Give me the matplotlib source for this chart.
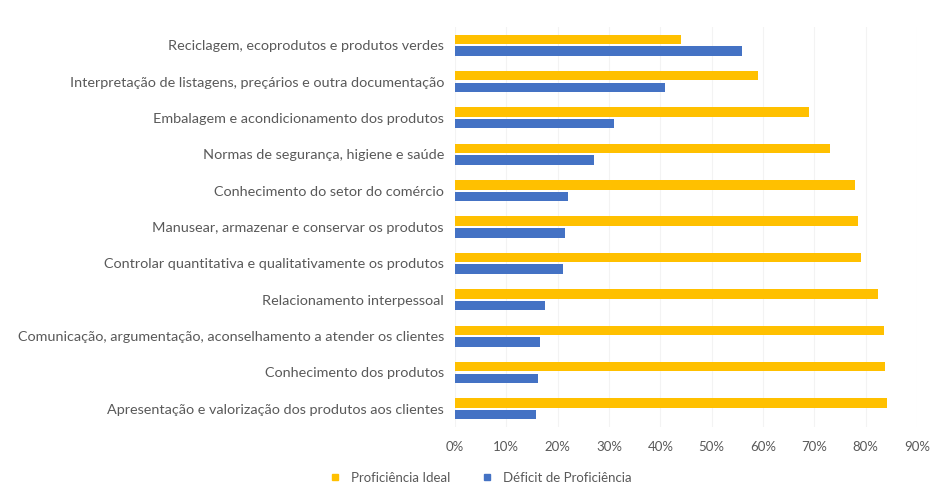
import matplotlib.pyplot as plt
import numpy as np
from matplotlib.ticker import FuncFormatter
from matplotlib.lines import Line2D

categories = [
    "Reciclagem, ecoprodutos e produtos verdes",
    "Interpretação de listagens, preçários e outra documentação",
    "Embalagem e acondicionamento dos produtos",
    "Normas de segurança, higiene e saúde",
    "Conhecimento do setor do comércio",
    "Manusear, armazenar e conservar os produtos",
    "Controlar quantitativa e qualitativamente os produtos",
    "Relacionamento interpessoal",
    "Comunicação, argumentação, aconselhamento a atender os clientes",
    "Conhecimento dos produtos",
    "Apresentação e valorização dos produtos aos clientes",
]
ideal = [44, 59, 69, 73, 78, 78.5, 79, 82.4, 83.5, 83.8, 84.2]
deficit = [56, 41, 31, 27, 22, 21.5, 21, 17.6, 16.5, 16.2, 15.8]
xticks = [0, 10, 20, 30, 40, 50, 60, 70, 80, 90]

YELLOW = "#ffc000"
BLUE = "#4472c4"
TEXT = "#595959"

plt.rcParams["font.family"] = ["Lato", "DejaVu Sans"]

fig = plt.figure(figsize=(9.31, 4.94), dpi=100)
ax = fig.add_axes([455 / 931, 1 - 427 / 494, 462 / 931, 400 / 494])

y = np.arange(len(categories))
h = 0.26
ax.barh(y - 0.16, ideal, height=h, color=YELLOW, zorder=3)
ax.barh(y + 0.16, deficit, height=h, color=BLUE, zorder=3)

ax.set_xlim(0, 90)
ax.set_ylim(len(categories) - 0.5, -0.5)
ax.set_xticks(xticks)
ax.xaxis.set_major_formatter(FuncFormatter(lambda v, _: f"{v:.0f}%"))
ax.set_yticks(y)
ax.set_yticklabels(categories)
ax.tick_params(axis="x", length=0, colors=TEXT, labelsize=9.5, pad=10)
ax.tick_params(axis="y", length=0, colors=TEXT, labelsize=10.4, pad=8)
ax.grid(axis="x", color="#f3f3f3", linewidth=0.8, zorder=0)
for s in ax.spines.values():
    s.set_visible(False)

handles = [
    Line2D([], [], marker="s", linestyle="none", markersize=5, color=YELLOW),
    Line2D([], [], marker="s", linestyle="none", markersize=5, color=BLUE),
]
fig.legend(handles, ["Proficiência Ideal", "Déficit de Proficiência"],
           loc="center", bbox_to_anchor=(477 / 931, 1 - 478 / 494), ncol=2,
           frameon=False, fontsize=9.5, labelcolor=TEXT, handletextpad=0.2,
           columnspacing=1.8)

fig.savefig("out.png", dpi=100)
